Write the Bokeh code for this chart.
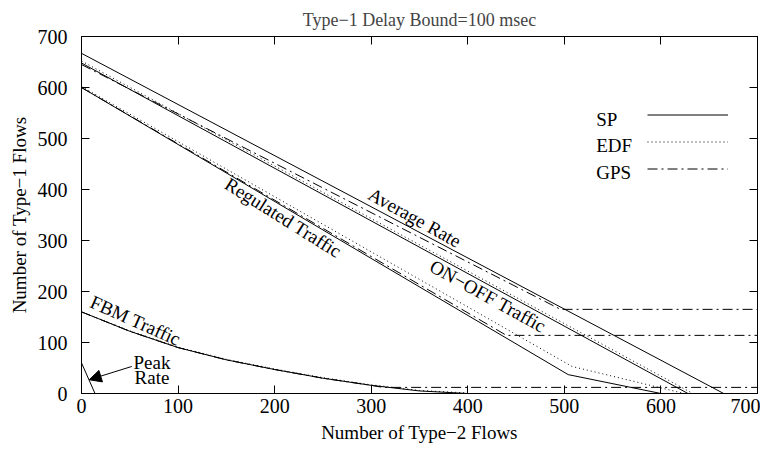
import math
from bokeh.plotting import figure
from bokeh.models import (Range1d, LinearAxis, FixedTicker, Legend, LegendItem,
                          Arrow, NormalHead)
from bokeh.embed import file_html
from bokeh.resources import INLINE
from bokeh.core.properties import value

# ---------------- data ----------------
ticks = [0, 100, 200, 300, 400, 500, 600, 700]

avg_x = [0, 665]
avg_y = [667, 0]

onoff_sp_x = [0, 628]
onoff_sp_y = [648, 0]
onoff_edf_x = [0, 633]
onoff_edf_y = [652, 0]
onoff_gps_x = [0, 496, 700]
onoff_gps_y = [645, 165, 165]

reg_sp_x = [0, 504, 600]
reg_sp_y = [600, 37, 0]
reg_edf_x = [0, 508, 624]
reg_edf_y = [602, 53, 0]
reg_gps_x = [0, 440, 700]
reg_gps_y = [600, 114, 114]

fbm_x = [0, 50, 100, 150, 200, 250, 300, 350, 400]
fbm_sp_y = [160, 122, 90, 66, 47, 30, 16, 5, 0]
fbm_edf_y = [160, 123, 91, 67, 48, 31, 17, 6, 1]
fbm_gps_x = [0, 50, 100, 150, 200, 250, 300, 312, 700]
fbm_gps_y = [160, 122, 90, 66, 47, 30, 16, 12, 12]

peak_x = [0, 14]
peak_y = [60, 0]

ann_text = ["Regulated Traffic", "Average Rate", "ON\u2212OFF Traffic", "FBM Traffic", "Peak", "Rate"]
ann_x = [209, 345, 421, 56, 73, 73]
ann_y = [345, 345, 191, 143, 60, 31]
ann_deg = [-32, -29, -29, -24, 0, 0]

legend_names = ["SP", "EDF", "GPS"]
legend_tx = [533, 533, 533]
legend_ty = [538, 486, 434]

arrow_from = (52, 53)
arrow_to = (8, 27)

FONT = "Liberation Serif"
TXT = "19px"
SP = dict(line_color="black", line_width=1)
EDF = dict(line_color="black", line_width=1, line_dash="1 3")
GPS = dict(line_color="black", line_width=1, line_dash="10 4 2 4")

p = figure(width=760, height=445, x_range=Range1d(0, 700), y_range=Range1d(0, 700),
           output_backend="svg", toolbar_location=None,
           title="Type\u22121 Delay Bound=100 msec",
           min_border_left=81, min_border_right=3, min_border_top=36, min_border_bottom=46)
p.grid.visible = False
p.outline_line_color = "black"
p.background_fill_color = "white"
p.border_fill_color = "white"
p.title.text_font = FONT
p.title.text_font_size = "18px"
p.title.text_font_style = "normal"
p.title.align = "center"
p.title.standoff = 13

def style_axis(ax, labels=True):
    ax.ticker = FixedTicker(ticks=ticks)
    ax.major_tick_in = 8
    ax.major_tick_out = 0
    ax.minor_tick_in = 0
    ax.minor_tick_out = 0
    ax.axis_line_color = "black"
    ax.major_tick_line_color = "black"
    if labels:
        ax.major_label_text_font = FONT
        ax.major_label_text_font_size = "20px"
        ax.major_label_text_color = "black"
        ax.axis_label_text_font = FONT
        ax.axis_label_text_font_size = TXT
        ax.axis_label_text_font_style = "normal"
        ax.axis_label_text_color = "black"
    else:
        ax.major_label_text_font_size = "1px"
        ax.major_label_text_color = None
        ax.major_label_standoff = 0

p.xaxis.axis_label = "Number of Type\u22122 Flows"
p.yaxis.axis_label = "Number of Type\u22121 Flows"
style_axis(p.xaxis[0])
style_axis(p.yaxis[0])
p.xaxis.major_label_standoff = 5
p.xaxis.axis_label_standoff = 6
p.yaxis.major_label_standoff = 14
p.yaxis.axis_label_standoff = 5

top_ax = LinearAxis()
style_axis(top_ax, labels=False)
p.add_layout(top_ax, "above")
right_ax = LinearAxis()
style_axis(right_ax, labels=False)
p.add_layout(right_ax, "right")

# ---------------- curves ----------------
r_avg = p.line(avg_x, avg_y, **SP)

r_sp = p.line(onoff_sp_x, onoff_sp_y, **SP)
r_edf = p.line(onoff_edf_x, onoff_edf_y, **EDF)
r_gps = p.line(onoff_gps_x, onoff_gps_y, **GPS)

p.line(reg_sp_x, reg_sp_y, **SP)
p.line(reg_edf_x, reg_edf_y, **EDF)
p.line(reg_gps_x, reg_gps_y, **GPS)

p.line(fbm_x, fbm_sp_y, **SP)
p.line(fbm_x, fbm_edf_y, **EDF)
p.line(fbm_gps_x, fbm_gps_y, **GPS)

p.line(peak_x, peak_y, **SP)

# ---------------- annotations ----------------
p.text(x=ann_x, y=ann_y, text=ann_text, angle=[math.radians(a) for a in ann_deg],
       text_font=value(FONT), text_font_size=value(TXT), text_color="black",
       text_align="center", text_baseline="middle")

p.add_layout(Arrow(end=NormalHead(size=12, fill_color="black", line_color="black"),
                   x_start=arrow_from[0], y_start=arrow_from[1],
                   x_end=arrow_to[0], y_end=arrow_to[1],
                   line_color="black", line_width=1))

# legend: labels on the left, samples on the right
p.text(x=legend_tx, y=legend_ty, text=legend_names,
       text_font=value(FONT), text_font_size=value(TXT), text_color="black",
       text_align="left", text_baseline="middle")

leg = Legend(items=[LegendItem(label=" ", renderers=[r_sp]),
                    LegendItem(label=" ", renderers=[r_edf]),
                    LegendItem(label=" ", renderers=[r_gps])],
             location=(566, 211), glyph_width=81, glyph_height=27,
             label_width=0, label_height=0, label_standoff=0,
             label_text_font_size="1px", label_text_color=None,
             spacing=0, padding=0, margin=0,
             border_line_color=None, background_fill_alpha=0)
p.add_layout(leg, "center")

open("out.html", "w").write(file_html(p, INLINE))
